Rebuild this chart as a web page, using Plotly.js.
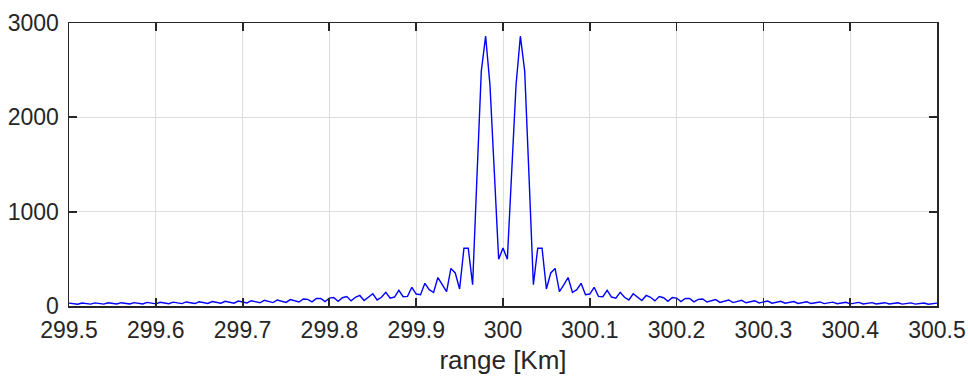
<!DOCTYPE html>
<html>
<head>
<meta charset="utf-8">
<script src="https://cdn.plot.ly/plotly-3.0.1.min.js"></script>
<style>html,body{margin:0;padding:0;background:#fff;}#chart{width:968px;height:376px;}</style>
</head>
<body>
<div id="chart"></div>
<script>
// Sample grid: range in km, first sample and spacing
const rangeStart = 299.5;
const rangeStep = 0.005;

// Magnitude samples (299.5 ... 300.5 km)
const magnitude = [
  31,27,19,32,27,20,33,28,20,34,29,21,35,30,21,36,31,22,38,32,
  23,39,33,24,41,34,25,43,35,26,45,36,27,47,38,29,50,40,30,53,
  42,32,56,44,34,60,47,36,64,50,38,68,55,42,74,70,44,80,80,46,
  84,90,50,88,100,54,92,112,58,95,130,64,92,145,82,95,166,99,102,198,
  127,120,240,173,143,302,223,152,398,350,180,612,612,225,1370,2490,2860,2340,1420,495,
  615,
  495,1420,2340,2860,2490,1370,225,612,612,180,
  350,398,152,223,302,143,173,240,120,127,
  198,102,99,166,95,82,145,92,64,130,
  95,58,112,92,54,100,88,50,90,84,
  46,80,80,44,70,74,42,55,68,38,
  50,64,36,47,60,34,44,56,32,42,
  53,30,40,50,29,38,47,27,36,45,
  26,35,43,25,34,41,24,33,39,23,
  32,38,22,31,36,21,30,35,21,29,
  34,20,28,33,20,27,32,19,27,31
];

const xTickVals = [299.5,299.6,299.7,299.8,299.9,300,300.1,300.2,300.3,300.4,300.5];
const xTickText = ["299.5","299.6","299.7","299.8","299.9","300","300.1","300.2","300.3","300.4","300.5"];
const yTickVals = [0,1000,2000,3000];
const yTickText = ["0","1000","2000","3000"];
const xLabel = "range [Km]";

const axisColor = "#262626";
const fontFamily = "'Liberation Sans', Arial, Helvetica, sans-serif";

const trace = {
  type: "scatter",
  mode: "lines",
  x0: rangeStart,
  dx: rangeStep,
  y: magnitude,
  line: {color: "#0000ff", width: 1.4},
  hoverinfo: "skip"
};

const commonAxis = {
  showline: true,
  linecolor: axisColor,
  linewidth: 1.5,
  mirror: "ticks",
  ticks: "inside",
  ticklen: 8,
  tickwidth: 1.8,
  tickcolor: axisColor,
  showgrid: true,
  gridcolor: "#dedede",
  gridwidth: 1,
  zeroline: false,
  tickfont: {family: fontFamily, size: 23, color: axisColor}
};

const layout = {
  width: 968,
  height: 376,
  margin: {l: 69, r: 31, t: 23, b: 70},
  paper_bgcolor: "#ffffff",
  plot_bgcolor: "#ffffff",
  showlegend: false,
  xaxis: Object.assign({}, commonAxis, {
    range: [299.5, 300.5],
    tickmode: "array",
    tickvals: xTickVals,
    ticktext: xTickText,
    ticklabelstandoff: 3,
    title: {text: xLabel, font: {family: fontFamily, size: 26, color: axisColor}, standoff: 8}
  }),
  yaxis: Object.assign({}, commonAxis, {
    range: [0, 3000],
    tickmode: "array",
    tickvals: yTickVals,
    ticktext: yTickText,
    ticklabelstandoff: 4
  })
};

Plotly.newPlot("chart", [trace], layout, {staticPlot: true, displayModeBar: false});
</script>
</body>
</html>
